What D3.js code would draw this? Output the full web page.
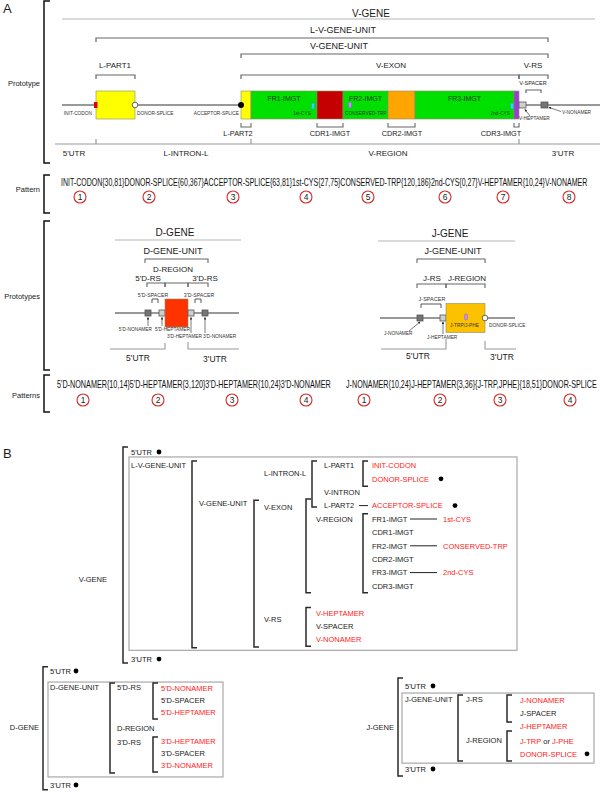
<!DOCTYPE html>
<html><head><meta charset="utf-8">
<script src="https://cdn.jsdelivr.net/npm/d3@7"></script>
<style>
body{margin:0;background:#fff}
svg{display:block}
text{font-family:"Liberation Sans",Arial,Helvetica,sans-serif}
</style>
</head><body>
<svg id="chart" width="600" height="792"></svg>
<script>
// ======================= DATA =======================
const vSegNames   = ["5'", "L-PART1", "V-INTRON", "L-PART2", "FR1-IMGT", "CDR1-IMGT", "FR2-IMGT", "CDR2-IMGT", "FR3-IMGT", "CDR3-IMGT", "V-HEPTAMER", "V-SPACER", "V-NONAMER", "3'"];
const vSegLengths = [34, 39, 106, 10, 66, 26, 45, 27, 99, 5, 7, 15, 7, 52];
const vSegKinds   = ["line", "lpart", "line", "lpart", "fr", "cdr1", "fr", "cdr2", "fr", "cdr3", "hept", "line", "non", "line"];
const vBoxLabels  = ["FR1-IMGT", "FR2-IMGT", "FR3-IMGT"];

const vUpperNames   = ["L-V-GENE-UNIT", "V-GENE-UNIT", "V-EXON", "V-RS", "L-PART1", "V-SPACER"];
const vUpperFrom    = [1, 3, 3, 10, 1, 11];
const vUpperTo      = [12, 12, 9, 12, 1, 11];
const vUpperLevel   = [1, 2, 3, 3, 3, 4];
const vUpperLabelAt = [281, 277, 329, 471, 53, 471];
const vGeneSpan     = [0, 533];
const vGeneLabelAt  = 309;

const vLowerNames   = ["L-PART2", "CDR1-IMGT", "CDR2-IMGT", "CDR3-IMGT"];
const vLowerSeg     = [3, 5, 7, 9];
const vLowerLabelAt = [176, 268, 340, 439];

const vAxisNames   = ["5'UTR", "L-INTRON-L", "V-REGION", "3'UTR"];
const vAxisLabelAt = [12, 124, 326, 501];
const vAxisTicks   = [34, 189, 457];

const vSiteNames   = ["INIT-CODON", "DONOR-SPLICE", "ACCEPTOR-SPLICE", "1st-CYS", "CONSERVED-TRP", "2nd-CYS"];
const vSitePos     = [34, 73, 179, 251, 288, 450];
const vSiteKinds   = ["init", "open", "dot", "cys", "trp", "cys"];
const vSiteLabelAt = [30, 75, 177, 249, 283, 448];
const vSiteAnchor  = ["end", "start", "end", "end", "start", "end"];

const vPattern = "INIT-CODON{30,81}DONOR-SPLICE{60,367}ACCEPTOR-SPLICE{63,81}1st-CYS{27,75}CONSERVED-TRP{120,186}2nd-CYS{0,27}V-HEPTAMER{10,24}V-NONAMER";
const dPattern = "5'D-NONAMER{10,14}5'D-HEPTAMER{3,120}3'D-HEPTAMER{10,24}3'D-NONAMER";
const jPattern = "J-NONAMER{10,24}J-HEPTAMER{3,36}{J-TRP,JPHE}{18,51}DONOR-SPLICE";
const vPatternSteps = [1, 2, 3, 4, 5, 6, 7, 8];
const dPatternSteps = [1, 2, 3, 4];
const jPatternSteps = [1, 2, 3, 4];

const dSegNames   = ["5'", "5'D-NONAMER", "5'D-SPACER", "5'D-HEPTAMER", "D-REGION", "3'D-HEPTAMER", "3'D-SPACER", "3'D-NONAMER", "3'"];
const dSegLengths = [30, 6, 8, 6, 23, 6, 8, 6, 31];
const dSegKinds   = ["line", "non", "line", "hept", "dregion", "hept", "line", "non", "line"];

const jSegNames   = ["5'", "J-NONAMER", "J-SPACER", "J-HEPTAMER", "J-REGION", "3'"];
const jSegLengths = [37, 6, 17, 6, 39, 30];
const jSegKinds   = ["line", "non", "line", "hept", "jregion", "line"];

const vTreeNodes = [
  ["5'UTR", "c0", 0, "k"], ["L-V-GENE-UNIT", "c0", 1, "k"], ["V-GENE-UNIT", "c1", 3.8, "k"],
  ["L-INTRON-L", "c2", 1.6, "k"], ["V-EXON", "c2", 4.15, "k"], ["V-RS", "c2", 12.5, "k"],
  ["L-PART1", "c3", 1, "k"], ["V-INTRON", "c3", 3, "k"], ["L-PART2", "c3", 4, "k"],
  ["V-REGION", "c3b", 5, "k"],
  ["V-HEPTAMER", "c3b", 12, "r"], ["V-SPACER", "c3b", 13, "k"], ["V-NONAMER", "c3b", 14, "r"],
  ["INIT-CODON", "c4", 1, "r"], ["DONOR-SPLICE", "c4", 2, "r"], ["ACCEPTOR-SPLICE", "c4", 4, "r"],
  ["FR1-IMGT", "c4", 5, "k"], ["CDR1-IMGT", "c4", 6, "k"], ["FR2-IMGT", "c4", 7, "k"],
  ["CDR2-IMGT", "c4", 8, "k"], ["FR3-IMGT", "c4", 9, "k"], ["CDR3-IMGT", "c4", 10, "k"],
  ["1st-CYS", "c5", 5, "r"], ["CONSERVED-TRP", "c5", 7, "r"], ["2nd-CYS", "c5", 9, "r"],
  ["3'UTR", "c0", 15.45, "k"]
];
const vTreeBrackets = [["b0", -0.37, 15.75], ["b1", 0.67, 14.6], ["b3b", 0.67, 4.1], ["b2", 3.6, 14.55], ["b3", 3.5, 10.5], ["b3", 11.6, 14.5], ["b4", 0.67, 2.55], ["b4", 4.6, 10.5]];
const vTreeDots  = [[0, "d0"], [2, "d1"], [4, "d2"], [15.45, "d0"]];
const vTreeLinks = [[4, "l0"], [5, "l1"], [7, "l1"], [9, "l1"]];

const dTreeNodes = [
  ["5'UTR", "c0", 0, "k"], ["D-GENE-UNIT", "c0", 1.33, "k"], ["5'D-RS", "c1", 1.33, "k"],
  ["D-REGION", "c1", 4.75, "k"], ["3'D-RS", "c1", 5.9, "k"],
  ["5'D-NONAMER", "c2", 1.42, "r"], ["5'D-SPACER", "c2", 2.42, "k"], ["5'D-HEPTAMER", "c2", 3.42, "r"],
  ["3'D-HEPTAMER", "c2", 5.83, "r"], ["3'D-SPACER", "c2", 6.83, "k"], ["3'D-NONAMER", "c2", 7.83, "r"],
  ["3'UTR", "c0", 9.5, "k"]
];
const dTreeBrackets = [["b0", -0.35, 9.9], ["b1", 1.0, 8.5], ["b2", 1.0, 4.0], ["b2", 5.5, 8.42]];
const dTreeDots = [[0, "d0"], [9.5, "d0"]];

const jTreeNodes = [
  ["5'UTR", "c0", 0, "k"], ["J-GENE-UNIT", "c0", 1, "k"], ["J-RS", "c1", 1, "k"], ["J-REGION", "c1", 4.06, "k"],
  ["J-NONAMER", "c2", 1.05, "r"], ["J-SPACER", "c2", 2.03, "k"], ["J-HEPTAMER", "c2", 3.0, "r"],
  ["DONOR-SPLICE", "c2", 5.1, "r"], ["3'UTR", "c0", 6.24, "k"]
];
const jTreeBrackets = [["b0", -0.6, 6.77], ["b1", 0.68, 5.64], ["b2", 0.68, 2.7], ["b2", 3.38, 5.64]];
const jTreeDots = [[0, "d0"], [5.1, "d1"], [6.24, "d0"]];

// ======================= STYLE / SCALES =======================
const svg = d3.select("#chart");
const kindColor = d3.scaleOrdinal()
  .domain(["lpart", "fr", "cdr1", "cdr2", "cdr3", "hept", "non", "dregion", "jregion"])
  .range(["#ffff00", "#00e000", "#c40000", "#ffa500", "#9a3fd0", "#cfcfcf", "#747474", "#ff3300", "#fcc200"]);
const tallKinds = new Set(["lpart", "fr", "cdr1", "cdr2", "cdr3", "dregion", "jregion"]);
const textColor = d3.scaleOrdinal().domain(["k", "r"]).range(["#1a1a1a", "#ff1a1a"]);
const GRAY = "#9a9a9a";

const defs = svg.append("defs");
defs.append("marker").attr("id", "arr").attr("viewBox", "0 0 6 6").attr("refX", 5).attr("refY", 3)
  .attr("markerWidth", 4).attr("markerHeight", 4).attr("orient", "auto")
  .append("path").attr("d", "M0,0L6,3L0,6Z").attr("fill", "#222");

function txt(sel, x, y, s, size, opt = {}) {
  return sel.append("text").attr("x", x).attr("y", y).attr("font-size", size)
    .attr("text-anchor", opt.anchor || "start").attr("fill", opt.fill || "#1a1a1a").text(s);
}
function bracketDown(sel, x1, x2, y, t, color, w) {
  sel.append("path").attr("d", `M${x1},${y + t}V${y}H${x2}V${y + t}`).attr("fill", "none")
    .attr("stroke", color || "#555").attr("stroke-width", w || 1);
}
function bracketUp(sel, x1, x2, y, t, color, w) {
  sel.append("path").attr("d", `M${x1},${y - t}V${y}H${x2}V${y - t}`).attr("fill", "none")
    .attr("stroke", color || "#555").attr("stroke-width", w || 1);
}
function bracketLeft(sel, x, y1, y2, t, w, color) {
  sel.append("path").attr("d", `M${x + t},${y1}H${x}V${y2}H${x + t}`).attr("fill", "none")
    .attr("stroke", color || "#222").attr("stroke-width", w || 1.5);
}
function cumStarts(lengths) { return [0, ...d3.cumsum(lengths)]; }

txt(svg, 3, 13, "A", 13);
txt(svg, 3, 458, "B", 13);

const frameNames = ["Prototype", "Pattern", "Prototypes", "Patterns"];
const frameTop = [1, 175, 221, 375], frameBottom = [163, 213, 370, 412], frameLabelY = [86, 192, 299, 398];
frameNames.forEach((n, i) => {
  bracketLeft(svg, 44, frameTop[i], frameBottom[i], 6, 1.5, "#111");
  txt(svg, 40, frameLabelY[i], n, 7.5, { anchor: "end" });
});

// ======================= V-GENE PROTOTYPE =======================
const gV = svg.append("g");
const vStarts = cumStarts(vSegLengths);
const xV = d3.scaleLinear().domain([0, d3.sum(vSegLengths)]).range([62, 600]);
const segX0 = i => xV(vStarts[i]), segX1 = i => xV(vStarts[i + 1]);
const vLineY = 105;
const levelY = d3.scaleOrdinal().domain([0, 1, 2, 3, 4]).range([19, 38, 54, 75, 90]);
const levelLabelY = d3.scaleOrdinal().domain([0, 1, 2, 3, 4]).range([17, 33, 49, 68, 85]);
const levelFont = d3.scaleOrdinal().domain([0, 1, 2, 3, 4]).range([10, 9, 9, 8, 5.5]);

gV.append("line").attr("x1", xV(vGeneSpan[0])).attr("x2", xV(vGeneSpan[1])).attr("y1", levelY(0)).attr("y2", levelY(0))
  .attr("stroke", "#b5b5b5").attr("stroke-width", 1.2);
txt(gV, xV(vGeneLabelAt), levelLabelY(0), "V-GENE", levelFont(0), { anchor: "middle" });

vUpperNames.forEach((n, i) => {
  const lv = vUpperLevel[i];
  bracketDown(gV, segX0(vUpperFrom[i]), segX1(vUpperTo[i]), levelY(lv), lv === 4 ? 3 : 4, "#666", 1.2);
  txt(gV, xV(vUpperLabelAt[i]), levelLabelY(lv), n, levelFont(lv), { anchor: "middle" });
});

gV.append("line").attr("x1", xV(0)).attr("x2", xV(d3.sum(vSegLengths))).attr("y1", vLineY).attr("y2", vLineY)
  .attr("stroke", "#333").attr("stroke-width", 1);

function drawSegments(sel, starts, kinds, xs, lineY, tallH) {
  kinds.forEach((k, i) => {
    if (k === "line") return;
    const x0 = xs(starts[i]), x1 = xs(starts[i + 1]);
    const tall = tallKinds.has(k);
    const h = tall ? tallH : 6;
    sel.append("rect").attr("x", x0).attr("y", lineY - h / 2).attr("width", x1 - x0).attr("height", h)
      .attr("fill", kindColor(k)).attr("stroke", tall ? "#8a8a6a" : "#555").attr("stroke-width", tall ? 0.6 : 0.8);
  });
}
drawSegments(gV, vStarts, vSegKinds, xV, vLineY, 28);

vBoxLabels.forEach(n => {
  const i = vSegNames.indexOf(n);
  txt(gV, (segX0(i) + segX1(i)) / 2, 101, n, 7, { anchor: "middle", fill: "#1a3a1a" });
});

vSiteNames.forEach((n, i) => {
  const x = xV(vSitePos[i]), k = vSiteKinds[i];
  if (k === "init") gV.append("rect").attr("x", x - 2).attr("y", vLineY - 3).attr("width", 3.5).attr("height", 6).attr("fill", "#e00000");
  if (k === "open") gV.append("circle").attr("cx", x).attr("cy", vLineY).attr("r", 2.8).attr("fill", "#fff").attr("stroke", "#444").attr("stroke-width", 0.8);
  if (k === "dot") gV.append("circle").attr("cx", x).attr("cy", vLineY).attr("r", 3).attr("fill", "#000");
  if (k === "cys") gV.append("rect").attr("x", x - 1.5).attr("y", vLineY - 2).attr("width", 3).attr("height", 6).attr("rx", 1.3).attr("fill", "#30d0ff").attr("stroke", "#2090b0").attr("stroke-width", 0.4);
  if (k === "trp") gV.append("rect").attr("x", x - 1.5).attr("y", vLineY - 3).attr("width", 3).attr("height", 6).attr("rx", 1.3).attr("fill", "#c58cff").attr("stroke", "#8050b0").attr("stroke-width", 0.4);
  txt(gV, xV(vSiteLabelAt[i]), 115, n, 4.8, { anchor: vSiteAnchor[i], fill: "#333" });
});

{
  const ih = vSegNames.indexOf("V-HEPTAMER"), inn = vSegNames.indexOf("V-NONAMER");
  txt(gV, segX0(ih), 120, "V-HEPTAMER", 4.8, { fill: "#333" });
  gV.append("line").attr("x1", segX0(ih) + 11).attr("y1", 116).attr("x2", segX0(ih) + 6).attr("y2", 109.5)
    .attr("stroke", "#222").attr("stroke-width", 0.6).attr("marker-end", "url(#arr)");
  txt(gV, segX1(inn) + 14, 114, "V-NONAMER", 4.8, { fill: "#333" });
  gV.append("line").attr("x1", segX1(inn) + 13).attr("y1", 111.5).attr("x2", segX1(inn) + 1).attr("y2", 107.5)
    .attr("stroke", "#222").attr("stroke-width", 0.6).attr("marker-end", "url(#arr)");
}

vLowerNames.forEach((n, i) => {
  bracketUp(gV, segX0(vLowerSeg[i]), segX1(vLowerSeg[i]), 127, 4, "#666", 1.1);
  txt(gV, xV(vLowerLabelAt[i]), 136, n, 7.3, { anchor: "middle" });
});

gV.append("line").attr("x1", xV(-7)).attr("x2", xV(d3.sum(vSegLengths))).attr("y1", 144).attr("y2", 144).attr("stroke", GRAY).attr("stroke-width", 1.2);
vAxisTicks.forEach(t => gV.append("line").attr("x1", xV(t)).attr("x2", xV(t)).attr("y1", 139).attr("y2", 144).attr("stroke", GRAY).attr("stroke-width", 1.2));
vAxisNames.forEach((n, i) => txt(gV, xV(vAxisLabelAt[i]), 156, n, 8, { anchor: "middle" }));

// ======================= PATTERNS =======================
function drawPattern(str, x, w, y, steps, cxs, cy) {
  const t = svg.append("text").attr("font-size", 10).attr("fill", "#111").text(str);
  const len = t.node().getComputedTextLength();
  t.attr("transform", `translate(${x},${y}) scale(${w / len},1)`);
  steps.forEach((s, i) => {
    svg.append("circle").attr("cx", cxs[i]).attr("cy", cy).attr("r", 6).attr("fill", "#fff").attr("stroke", "#d42a2a").attr("stroke-width", 1.1);
    txt(svg, cxs[i], cy + 3, String(s), 8.5, { anchor: "middle", fill: "#222" });
  });
}
drawPattern(vPattern, 61, 527, 186, vPatternSteps, [80, 149, 233, 306, 368, 445, 503, 569], 197);
drawPattern(dPattern, 57, 274, 388, dPatternSteps, [83, 158, 232, 306], 400);
drawPattern(jPattern, 346, 251, 388, jPatternSteps, [364, 440, 500, 570], 400);

// ======================= D-GENE PROTOTYPE =======================
const gD = svg.append("g");
const dStarts = cumStarts(dSegLengths);
const xD = d3.scaleLinear().domain([0, d3.sum(dSegLengths)]).range([115, 239]);
const dX0 = i => xD(dStarts[i]), dX1 = i => xD(dStarts[i + 1]);
const dLineY = 313;
gD.append("line").attr("x1", 115).attr("x2", 241).attr("y1", 240).attr("y2", 240).attr("stroke", "#b5b5b5").attr("stroke-width", 1.2);
txt(gD, 175, 236, "D-GENE", 10, { anchor: "middle" });
bracketDown(gD, dX0(1), dX1(7), 259, 4, "#666", 1.1);
txt(gD, 173, 254, "D-GENE-UNIT", 9, { anchor: "middle" });
txt(gD, 173, 272, "D-REGION", 8, { anchor: "middle" });
txt(gD, 148, 281, "5'D-RS", 8, { anchor: "middle" });
txt(gD, 205, 281, "3'D-RS", 8, { anchor: "middle" });
bracketDown(gD, dX0(1) + 2, dX1(3), 283, 4, "#666", 1.1);
bracketDown(gD, dX0(4), dX1(4), 283, 4, "#666", 1.1);
bracketDown(gD, dX0(5), dX1(7), 283, 4, "#666", 1.1);
txt(gD, 153, 297, "5'D-SPACER", 5.2, { anchor: "middle", fill: "#333" });
txt(gD, 199, 297, "3'D-SPACER", 5.2, { anchor: "middle", fill: "#333" });
bracketDown(gD, dX0(2) + 1, dX1(2) - 1, 299, 4, "#444", 0.9);
bracketDown(gD, dX0(6) + 1, dX1(6) - 1, 299, 4, "#444", 0.9);
gD.append("line").attr("x1", xD(0)).attr("x2", xD(d3.sum(dSegLengths))).attr("y1", dLineY).attr("y2", dLineY).attr("stroke", "#333");
drawSegments(gD, dStarts, dSegKinds, xD, dLineY, 28);
[[1, 326, "5'D-NONAMER", 331, "end", 152], [3, 326, "5'D-HEPTAMER", 331, "start", 155], [5, 333, "3'D-HEPTAMER", 338, "start", 167], [7, 333, "3'D-NONAMER", 338, "start", 203]]
  .forEach(([si, y0, name, ly, anc, lx]) => {
    const cx = (dX0(si) + dX1(si)) / 2;
    gD.append("line").attr("x1", cx).attr("x2", cx).attr("y1", y0).attr("y2", dLineY + 4.5).attr("stroke", "#222").attr("stroke-width", 0.6).attr("marker-end", "url(#arr)");
    txt(gD, lx, ly, name, 4.8, { anchor: anc, fill: "#333" });
  });
gD.append("path").attr("d", `M110,349H${dX1(3)}V343`).attr("fill", "none").attr("stroke", GRAY).attr("stroke-width", 1.1);
gD.append("path").attr("d", `M${dX0(5)},342V349H239`).attr("fill", "none").attr("stroke", GRAY).attr("stroke-width", 1.1);
txt(gD, 138, 361, "5'UTR", 8.5, { anchor: "middle" });
txt(gD, 215, 362, "3'UTR", 8.5, { anchor: "middle" });

// ======================= J-GENE PROTOTYPE =======================
const gJ = svg.append("g");
const jStarts = cumStarts(jSegLengths);
const xJ = d3.scaleLinear().domain([0, d3.sum(jSegLengths)]).range([380, 515]);
const jX0 = i => xJ(jStarts[i]), jX1 = i => xJ(jStarts[i + 1]);
const jLineY = 318;
gJ.append("line").attr("x1", 378).attr("x2", 515).attr("y1", 241).attr("y2", 241).attr("stroke", "#b5b5b5").attr("stroke-width", 1.2);
txt(gJ, 450, 237, "J-GENE", 10, { anchor: "middle" });
bracketDown(gJ, jX0(1), jX1(4), 259, 4, "#666", 1.1);
txt(gJ, 453, 254, "J-GENE-UNIT", 9, { anchor: "middle" });
txt(gJ, 432, 281, "J-RS", 8, { anchor: "middle" });
txt(gJ, 467, 281, "J-REGION", 8, { anchor: "middle" });
bracketDown(gJ, jX0(1), jX1(3), 284, 4, "#666", 1.1);
bracketDown(gJ, jX0(4), jX1(4), 284, 4, "#666", 1.1);
txt(gJ, 432, 301, "J-SPACER", 5.5, { anchor: "middle", fill: "#333" });
bracketDown(gJ, jX0(2) - 2, jX1(2) + 1, 304, 4, "#444", 0.9);
gJ.append("line").attr("x1", xJ(0)).attr("x2", xJ(d3.sum(jSegLengths))).attr("y1", jLineY).attr("y2", jLineY).attr("stroke", "#333");
drawSegments(gJ, jStarts, jSegKinds, xJ, jLineY, 29);
gJ.append("rect").attr("x", 464.5).attr("y", jLineY - 4).attr("width", 3).attr("height", 6).attr("rx", 1.3).attr("fill", "#c58cff").attr("stroke", "#8050b0").attr("stroke-width", 0.4);
gJ.append("circle").attr("cx", jX1(4)).attr("cy", jLineY).attr("r", 2.8).attr("fill", "#fff").attr("stroke", "#444").attr("stroke-width", 0.8);
txt(gJ, (jX0(4) + jX1(4)) / 2 - 1, 327, "J-TRP/J-PHE", 4.8, { anchor: "middle", fill: "#333" });
txt(gJ, jX1(4) + 4, 327, "DONOR-SPLICE", 4.8, { fill: "#333" });
txt(gJ, 384, 335, "J-NONAMER", 4.8, { fill: "#333" });
gJ.append("line").attr("x1", 409).attr("y1", 331).attr("x2", (jX0(1) + jX1(1)) / 2).attr("y2", jLineY + 4).attr("stroke", "#222").attr("stroke-width", 0.6).attr("marker-end", "url(#arr)");
txt(gJ, 427, 339, "J-HEPTAMER", 4.8, { fill: "#333" });
gJ.append("line").attr("x1", 443).attr("y1", 334).attr("x2", 443).attr("y2", jLineY + 4).attr("stroke", "#222").attr("stroke-width", 0.6).attr("marker-end", "url(#arr)");
gJ.append("path").attr("d", `M381,349H${jX1(3)}V339`).attr("fill", "none").attr("stroke", GRAY).attr("stroke-width", 1.1);
gJ.append("path").attr("d", `M${jX1(4)},341V349H516`).attr("fill", "none").attr("stroke", GRAY).attr("stroke-width", 1.1);
txt(gJ, 418, 359, "5'UTR", 8.5, { anchor: "middle" });
txt(gJ, 502, 360, "3'UTR", 8.5, { anchor: "middle" });

// ======================= PANEL B TREES =======================
function drawTree(opt) {
  const g = svg.append("g");
  const y = d3.scaleLinear().domain([0, 1]).range([opt.y0, opt.y0 + opt.dy]);
  g.append("rect").attr("x", opt.box[0]).attr("y", y(opt.box[2])).attr("width", opt.box[1] - opt.box[0])
    .attr("height", y(opt.box[3]) - y(opt.box[2])).attr("fill", "none").attr("stroke", "#a8a8a8").attr("stroke-width", 1.2);
  opt.brackets.forEach(([c, r0, r1]) => bracketLeft(g, opt.cols(c), y(r0), y(r1), 5, 1.5, "#2a2a2a"));
  opt.nodes.forEach(([s, c, r, col]) => txt(g, opt.cols(c), y(r) + 2.7, s, 7.5, { fill: textColor(col) }));
  (opt.links || []).forEach(([r, c]) => g.append("line").attr("x1", opt.cols(c)).attr("x2", opt.cols(c) + opt.linkLen[c])
    .attr("y1", y(r)).attr("y2", y(r)).attr("stroke", "#222").attr("stroke-width", 1));
  (opt.dots || []).forEach(([r, c]) => g.append("circle").attr("cx", opt.cols(c)).attr("cy", y(r)).attr("r", 2.4).attr("fill", "#000"));
  txt(g, opt.geneLabel[1], y(opt.geneLabel[2]) + 2.7, opt.geneLabel[0], 7.5, { anchor: "end" });
  return { g, y };
}

drawTree({
  y0: 452, dy: 13.4,
  box: [129, 517, 0.37, 14.8],
  cols: d3.scaleOrdinal().domain(["c0", "c1", "c2", "c3", "c3b", "c4", "c5", "b0", "b1", "b2", "b3", "b3b", "b4", "d0", "d1", "d2", "l0", "l1"])
    .range([131, 199, 264, 324, 316, 372, 443, 123, 192, 254, 306, 312, 363, 159, 441, 455, 359, 410]),
  linkLen: { l0: 9, l1: 27 },
  nodes: vTreeNodes, brackets: vTreeBrackets, dots: vTreeDots, links: vTreeLinks,
  geneLabel: ["V-GENE", 107, 9.5]
});

drawTree({
  y0: 671, dy: 12,
  box: [48, 223, 0.92, 8.83],
  cols: d3.scaleOrdinal().domain(["c0", "c1", "c2", "b0", "b1", "b2", "d0"]).range([50, 117, 161, 43, 110, 153, 76]),
  nodes: dTreeNodes, brackets: dTreeBrackets, dots: dTreeDots,
  geneLabel: ["D-GENE", 39, 4.7]
});

const jt = drawTree({
  y0: 686, dy: 13.3,
  box: [402, 594, 0.53, 5.8],
  cols: d3.scaleOrdinal().domain(["c0", "c1", "c2", "b0", "b1", "b2", "d0", "d1"]).range([405, 466, 520, 398, 458, 507, 433, 587]),
  nodes: jTreeNodes, brackets: jTreeBrackets, dots: jTreeDots,
  geneLabel: ["J-GENE", 394, 3.08]
});
{
  const t = jt.g.append("text").attr("x", 520).attr("y", jt.y(4.14) + 2.7).attr("font-size", 7.5);
  t.append("tspan").attr("fill", textColor("r")).text("J-TRP");
  t.append("tspan").attr("fill", textColor("k")).text(" or ");
  t.append("tspan").attr("fill", textColor("r")).text("J-PHE");
}
</script>
</body></html>
